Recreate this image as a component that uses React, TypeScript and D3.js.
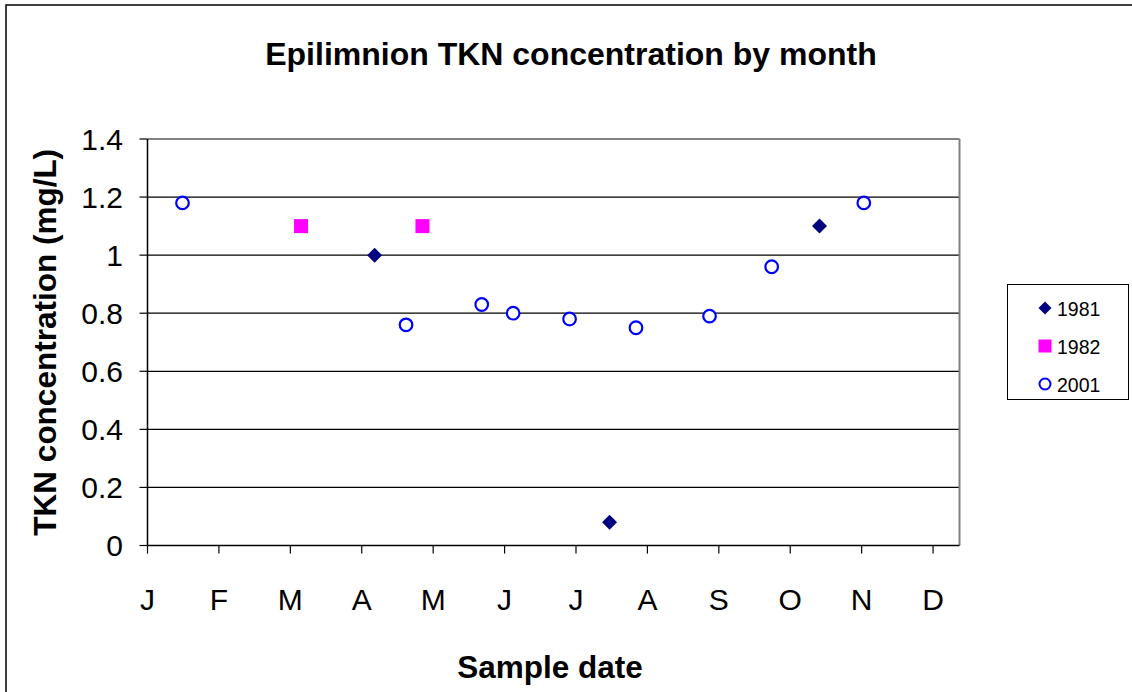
import React from "react";
import * as d3 from "d3";

// Month labels (tick i = start of month i, in month units)
const monthLabels = ["J", "F", "M", "A", "M", "J", "J", "A", "S", "O", "N", "D"];
const yTicks = [0, 0.2, 0.4, 0.6, 0.8, 1, 1.2, 1.4];

// x = month position (0 = Jan start), y = TKN mg/L
const s1981x = [3.18, 6.47, 9.41];
const s1981y = [1.0, 0.08, 1.1];
const s1982x = [2.15, 3.85];
const s1982y = [1.1, 1.1];
const s2001x = [0.49, 3.62, 4.68, 5.12, 5.91, 6.84, 7.87, 8.74, 10.03];
const s2001y = [1.18, 0.76, 0.83, 0.8, 0.78, 0.75, 0.79, 0.96, 1.18];

const W = 1132;
const H = 692;
const plot = { left: 147.5, right: 959.5, top: 139, bottom: 545.5 };
const font = "Arial, 'Liberation Sans', sans-serif";

export default function App() {
  const x = d3.scaleLinear().domain([0, 11.37]).range([plot.left, plot.right]);
  const y = d3.scaleLinear().domain([0, 1.4]).range([plot.bottom, plot.top]);

  const diamond = (cx: number, cy: number, r: number) =>
    `M${cx},${cy - r}L${cx + r},${cy}L${cx},${cy + r}L${cx - r},${cy}Z`;

  const pts1981 = s1981x.map((v, i) => ({ x: v, y: s1981y[i] }));
  const pts1982 = s1982x.map((v, i) => ({ x: v, y: s1982y[i] }));
  const pts2001 = s2001x.map((v, i) => ({ x: v, y: s2001y[i] }));

  return (
    <svg
      width={W}
      height={H}
      style={{ position: "absolute", left: 0, top: 0, background: "#fff" }}
      fontFamily={font}
    >
      <rect x={0} y={0} width={W} height={H} fill="#fff" />
      {/* outer chart border */}
      <rect x={6} y={5} width={W + 20} height={H + 20} fill="none" stroke="#000" strokeWidth={1.5} />

      {/* title */}
      <text x={571} y={65} textAnchor="middle" fontSize={32} fontWeight="bold">
        Epilimnion TKN concentration by month
      </text>

      {/* gridlines */}
      {yTicks.filter((t) => t > 0 && t < 1.4).map((t) => (
        <line key={t} x1={plot.left} x2={plot.right} y1={y(t)} y2={y(t)} stroke="#000" strokeWidth={1.2} />
      ))}
      {/* plot border top/right */}
      <line x1={plot.left} x2={plot.right} y1={y(1.4)} y2={y(1.4)} stroke="#808080" strokeWidth={2} />
      <line x1={plot.right} x2={plot.right} y1={plot.top} y2={plot.bottom} stroke="#808080" strokeWidth={2} />

      {/* axes */}
      <line x1={plot.left} x2={plot.left} y1={plot.top} y2={plot.bottom} stroke="#000" strokeWidth={1.5} />
      <line x1={plot.left} x2={plot.right} y1={plot.bottom} y2={plot.bottom} stroke="#000" strokeWidth={1.5} />

      {/* y ticks */}
      {yTicks.map((t) => (
        <g key={t}>
          <line x1={plot.left - 8} x2={plot.left} y1={y(t)} y2={y(t)} stroke="#000" strokeWidth={1.2} />
          <text x={123} y={y(t)} dy="0.36em" textAnchor="end" fontSize={30}>
            {d3.format("~g")(t)}
          </text>
        </g>
      ))}

      {/* x ticks */}
      {monthLabels.map((m, i) => (
        <g key={i}>
          <line x1={x(i)} x2={x(i)} y1={plot.bottom} y2={plot.bottom + 8} stroke="#000" strokeWidth={1.2} />
          <text x={x(i)} y={610} textAnchor="middle" fontSize={30}>
            {m}
          </text>
        </g>
      ))}

      {/* axis titles */}
      <text x={550} y={678} textAnchor="middle" fontSize={31.5} fontWeight="bold">
        Sample date
      </text>
      <text
        transform={`translate(56,${(plot.top + plot.bottom) / 2}) rotate(-90)`}
        textAnchor="middle"
        fontSize={31.5}
        fontWeight="bold"
      >
        TKN concentration (mg/L)
      </text>

      {/* series */}
      {pts1982.map((p, i) => (
        <rect key={"b" + i} x={x(p.x) - 7} y={y(p.y) - 7} width={14} height={14} fill="#FF00FF" />
      ))}
      {pts1981.map((p, i) => (
        <path key={"a" + i} d={diamond(x(p.x), y(p.y), 7.5)} fill="#000080" />
      ))}
      {pts2001.map((p, i) => (
        <circle key={"c" + i} cx={x(p.x)} cy={y(p.y)} r={6.3} fill="#fff" stroke="#0000FF" strokeWidth={2.2} />
      ))}

      {/* legend */}
      <rect x={1007.5} y={284.5} width={121} height={115} fill="#fff" stroke="#000" strokeWidth={1} />
      <path d={diamond(1045, 308, 6.5)} fill="#000080" />
      <text x={1057} y={309} dy="0.36em" fontSize={19.5}>1981</text>
      <rect x={1038.5} y={339.5} width={13} height={13} fill="#FF00FF" />
      <text x={1057} y={347} dy="0.36em" fontSize={19.5}>1982</text>
      <circle cx={1045} cy={384} r={5.5} fill="#fff" stroke="#0000FF" strokeWidth={2} />
      <text x={1057} y={385} dy="0.36em" fontSize={19.5}>2001</text>
    </svg>
  );
}
